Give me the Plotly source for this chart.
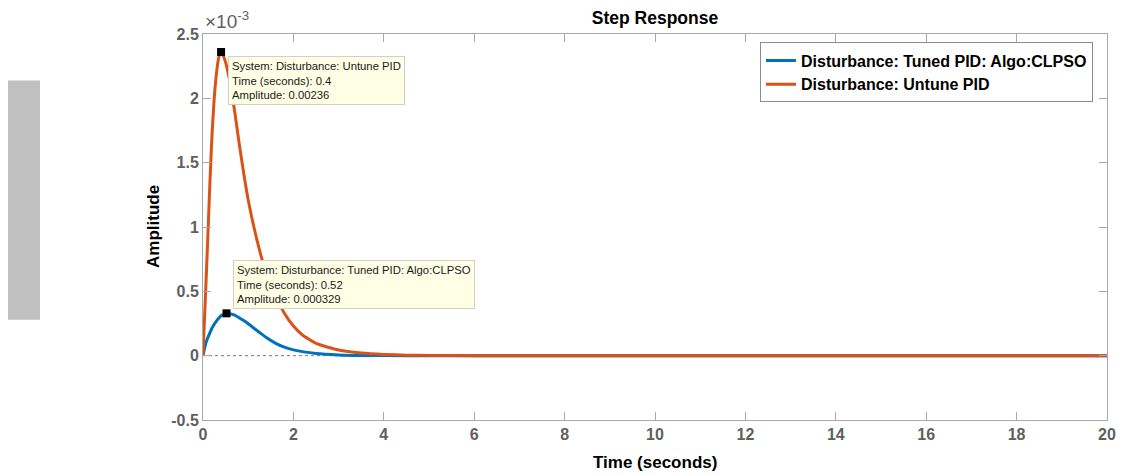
import plotly.graph_objects as go

# ---- data (amplitude in absolute units) ----
t_untuned = [0, 0.05, 0.1, 0.15, 0.2, 0.25, 0.3, 0.35, 0.4, 0.45, 0.5, 0.6, 0.7, 0.8, 0.9, 1.0,
             1.2, 1.4, 1.6, 1.8, 2.0, 2.2, 2.5, 3.0, 3.5, 4.0, 4.5, 5.0, 6.0, 8.0, 10.0, 12.0,
             15.0, 18.0, 20.0]
y_untuned = [0, 0.43e-3, 0.86e-3, 1.32e-3, 1.72e-3, 2.01e-3, 2.20e-3, 2.32e-3, 2.36e-3, 2.33e-3,
             2.28e-3, 2.12e-3, 1.90e-3, 1.65e-3, 1.42e-3, 1.21e-3, 0.89e-3, 0.64e-3, 0.47e-3,
             0.33e-3, 0.23e-3, 0.161e-3, 0.095e-3, 0.044e-3, 0.020e-3, 0.009e-3, 0.004e-3,
             0.002e-3, 0.0003e-3, 0, 0, 0, 0, 0, 0]

t_tuned = [0, 0.05, 0.1, 0.15, 0.2, 0.3, 0.4, 0.52, 0.6, 0.7, 0.8, 0.9, 1.0, 1.1, 1.2, 1.3, 1.4,
           1.6, 1.8, 2.0, 2.5, 3.0, 3.5, 4.0, 5.0, 6.0, 8.0, 10.0, 12.0, 15.0, 18.0, 20.0]
y_tuned = [0, 0.08e-3, 0.135e-3, 0.175e-3, 0.215e-3, 0.27e-3, 0.31e-3, 0.329e-3, 0.326e-3,
           0.315e-3, 0.295e-3, 0.273e-3, 0.248e-3, 0.221e-3, 0.194e-3, 0.167e-3, 0.141e-3,
           0.098e-3, 0.066e-3, 0.045e-3, 0.017e-3, 0.006e-3, 0.002e-3, 0.0007e-3, 0, 0, 0, 0,
           0, 0, 0, 0]

peak_untuned = (0.4, 0.00236)
peak_tuned = (0.52, 0.000329)

name_tuned = "Disturbance: Tuned PID: Algo:CLPSO"
name_untuned = "Disturbance: Untune PID"

x_ticks = [0, 2, 4, 6, 8, 10, 12, 14, 16, 18, 20]
y_ticks = [-0.5e-3, 0, 0.5e-3, 1.0e-3, 1.5e-3, 2.0e-3, 2.5e-3]
y_tick_text = ["-0.5", "0", "0.5", "1", "1.5", "2", "2.5"]

BLUE = "#0072BD"
ORANGE = "#D95319"
AXIS = "#A8A8A8"
FONT = "Liberation Sans, Arial"
TICKFONT = dict(family=FONT, size=16, color="#5f5f5f")
LABELFONT = dict(family=FONT, size=17, color="black")

fig = go.Figure()

# steady-state dotted line
fig.add_trace(go.Scatter(x=[x_ticks[0], x_ticks[-1]], y=[0, 0], mode="lines",
                         line=dict(color="#777777", width=1, dash="dot"),
                         showlegend=False, hoverinfo="skip"))

fig.add_trace(go.Scatter(x=t_tuned, y=y_tuned, mode="lines", name=f"<b>{name_tuned}</b>",
                         line=dict(color=BLUE, width=3, shape="spline", smoothing=0.5)))
fig.add_trace(go.Scatter(x=t_untuned, y=y_untuned, mode="lines", name=f"<b>{name_untuned}</b>",
                         line=dict(color=ORANGE, width=3, shape="spline", smoothing=0.5)))

# datatip markers
fig.add_trace(go.Scatter(x=[peak_untuned[0], peak_tuned[0]], y=[peak_untuned[1], peak_tuned[1]],
                         mode="markers", marker=dict(symbol="square", size=8, color="black"),
                         showlegend=False, hoverinfo="skip"))

tipfont = dict(family=FONT, size=11.3, color="#1a1a1a")
fig.add_annotation(x=peak_untuned[0], y=peak_untuned[1], xref="x", yref="y",
                   text=f"System: {name_untuned}<br>Time (seconds): {peak_untuned[0]}<br>Amplitude: {peak_untuned[1]}",
                   showarrow=False, xanchor="left", yanchor="top", xshift=7, yshift=-4,
                   align="left", bgcolor="#FFFFE6", bordercolor="#D0D0C8", borderwidth=1,
                   borderpad=3, font=tipfont)
fig.add_annotation(x=peak_tuned[0], y=peak_tuned[1], xref="x", yref="y",
                   text=f"System: {name_tuned}<br>Time (seconds): {peak_tuned[0]}<br>Amplitude: {peak_tuned[1]}",
                   showarrow=False, xanchor="left", yanchor="bottom", xshift=6, yshift=4,
                   align="left", bgcolor="#FFFFE6", bordercolor="#D0D0C8", borderwidth=1,
                   borderpad=3, font=tipfont)

# exponent label
fig.add_annotation(x=0, y=1, xref="paper", yref="paper", text="×10<sup>-3</sup>",
                   showarrow=False, xanchor="left", yanchor="bottom", yshift=0, xshift=0,
                   font=dict(family=FONT, size=19, color="#5f5f5f"))

# axis titles
fig.add_annotation(x=0.5, y=-0.1098, xref="paper", yref="paper", text="<b>Time (seconds)</b>",
                   showarrow=False, xanchor="center", yanchor="middle", font=LABELFONT)
fig.add_annotation(x=-0.0553, y=0.5, xref="paper", yref="paper", text="<b>Amplitude</b>",
                   showarrow=False, xanchor="center", yanchor="middle", textangle=-90, font=LABELFONT)

# grey block on left
fig.add_shape(type="rect", xref="paper", yref="paper", x0=-0.2157, x1=-0.1803, y0=0.2597, y1=0.8798,
              fillcolor="#C0C0C0", line=dict(width=0), layer="below")

fig.update_layout(
    width=1133, height=475,
    margin=dict(l=203, r=26, t=34, b=55),
    paper_bgcolor="white", plot_bgcolor="white",
    title=dict(text="<b>Step Response</b>", x=(203 + 1107) / 2 / 1133, xanchor="center",
               y=1 - 18 / 475, yanchor="middle",
               font=dict(family=FONT, size=17.5, color="black")),
    legend=dict(x=0.9845, y=0.978, xanchor="right", yanchor="top",
                bgcolor="white", bordercolor="#8C8C8C", borderwidth=1,
                font=dict(family=FONT, size=16, color="black"),
                tracegroupgap=0, itemwidth=30),
    showlegend=True,
)
fig.update_xaxes(range=[0, 20], tickvals=x_ticks, ticktext=[f"<b>{v}</b>" for v in x_ticks],
                 showgrid=False, zeroline=False, showline=True, linecolor=AXIS, linewidth=1,
                 mirror="ticks", ticks="inside", ticklen=8, tickcolor=AXIS, tickfont=TICKFONT,
                 automargin=False)
fig.update_yaxes(range=[-0.5e-3, 2.5e-3], tickvals=y_ticks, ticktext=[f"<b>{s}</b>" for s in y_tick_text],
                 showgrid=False, zeroline=False, showline=True, linecolor=AXIS, linewidth=1,
                 mirror="ticks", ticks="inside", ticklen=8, tickcolor=AXIS, tickfont=TICKFONT,
                 automargin=False)

fig.write_html("out.html")
